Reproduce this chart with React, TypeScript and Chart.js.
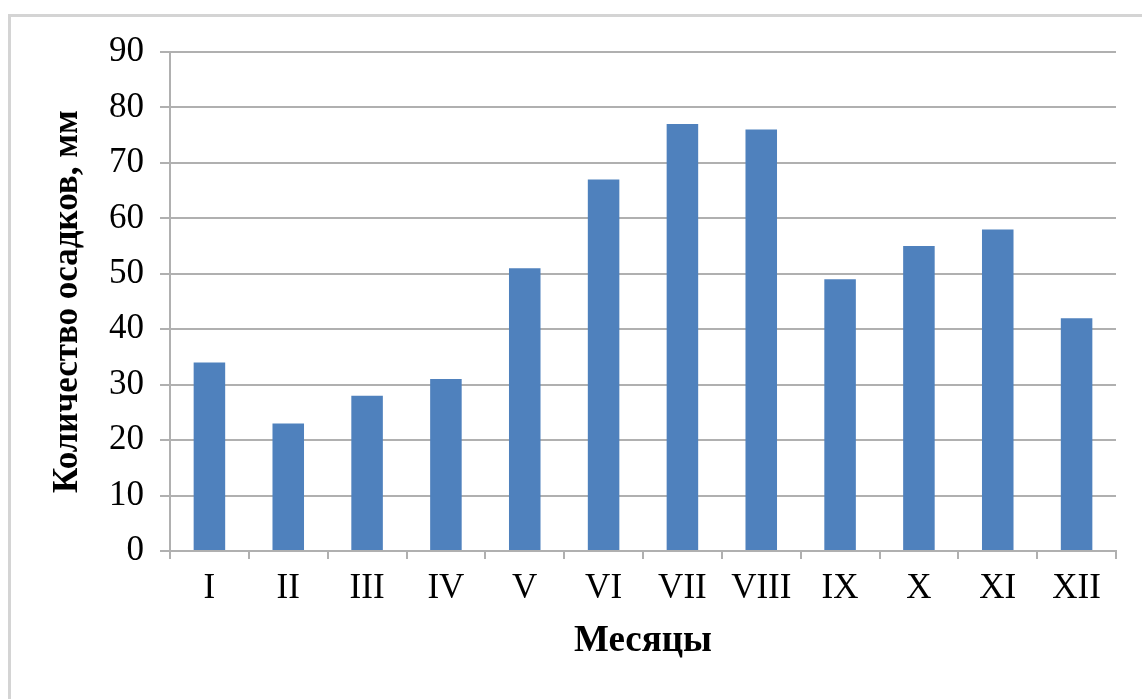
import React, { useEffect, useRef } from "react";
import { Chart, registerables } from "chart.js";

Chart.register(...registerables);

const months = ["I", "II", "III", "IV", "V", "VI", "VII", "VIII", "IX", "X", "XI", "XII"];
const precipitation = [34, 23, 28, 31, 51, 67, 77, 76, 49, 55, 58, 42];
const yTitle = "Количество осадков, мм";
const xTitle = "Месяцы";

const FONT = '"Liberation Serif", "Times New Roman", serif';

const frame = {
  id: "frame",
  beforeDraw(chart: any) {
    const ctx = chart.ctx;
    ctx.save();
    ctx.fillStyle = "#ffffff";
    ctx.fillRect(0, 0, chart.width, chart.height);
    ctx.strokeStyle = "#d4d4d4";
    ctx.lineWidth = 3;
    ctx.strokeRect(9.5, 15.5, 1300, 900);
    ctx.restore();
  },
};

export default function App() {
  const ref = useRef<HTMLCanvasElement>(null);
  useEffect(() => {
    if (!ref.current) return;
    const chart = new Chart(ref.current, {
      type: "bar",
      data: {
        labels: months,
        datasets: [
          {
            data: precipitation,
            backgroundColor: "#4F81BD",
            borderWidth: 0,
            barPercentage: 0.4,
            categoryPercentage: 1,
          },
        ],
      },
      plugins: [frame],
      options: {
        responsive: false,
        animation: false,
        layout: { padding: { top: 52, right: 26, left: 0, bottom: 0 } },
        plugins: { legend: { display: false }, tooltip: { enabled: false } },
        scales: {
          x: {
            grid: {
              offset: true,
              drawOnChartArea: false,
              drawTicks: true,
              tickLength: 8,
              color: "#b0b0b0",
              lineWidth: 2,
            },
            border: { color: "#b0b0b0", width: 2 },
            ticks: {
              color: "#000",
              font: { family: FONT, size: 35 },
              padding: 9,
              maxRotation: 0,
              autoSkip: false,
            },
            title: {
              display: true,
              text: xTitle,
              color: "#000",
              font: { family: FONT, size: 37, weight: "bold" },
              padding: { top: 0, bottom: 35 },
            },
            afterFit(scale: any) {
              scale.height = 148;
            },
          },
          y: {
            min: 0,
            max: 90,
            ticks: {
              stepSize: 10,
              color: "#000",
              font: { family: FONT, size: 35 },
              padding: 16,
            },
            grid: {
              color: "#b0b0b0",
              lineWidth: 2,
              tickLength: 10,
            },
            border: { color: "#b0b0b0", width: 2 },
            title: {
              display: true,
              text: yTitle,
              color: "#000",
              font: { family: FONT, size: 35, weight: "bold" },
              padding: { top: 47, bottom: 0 },
            },
            afterFit(scale: any) {
              scale.width = 170;
            },
          },
        },
      },
    });
    return () => chart.destroy();
  }, []);
  return (
    <div style={{ position: "fixed", left: 0, top: 0, width: 1142, height: 699 }}>
      <canvas ref={ref} width={1142} height={699} />
    </div>
  );
}
